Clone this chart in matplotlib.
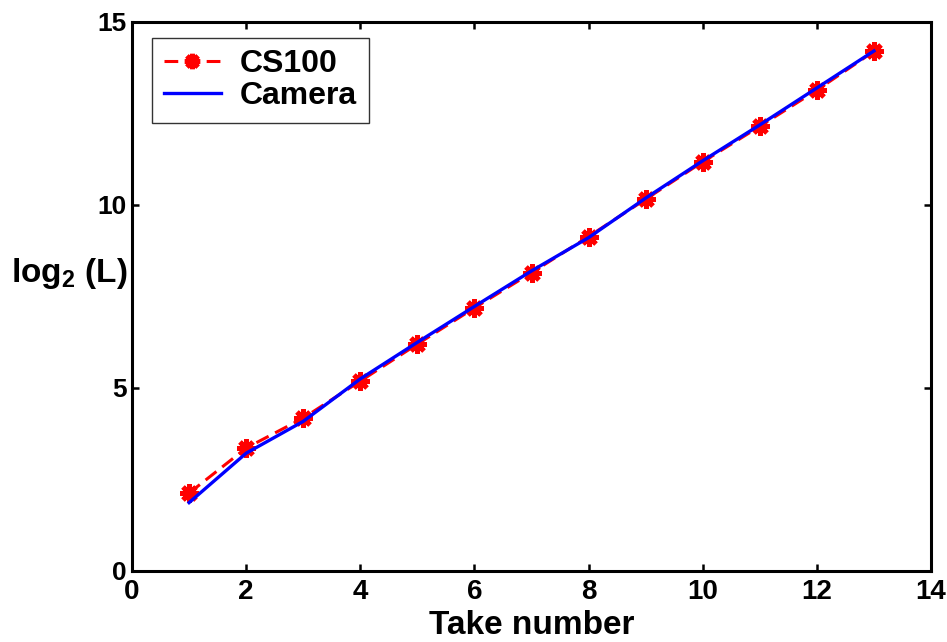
import matplotlib
matplotlib.use("Agg")
import matplotlib.pyplot as plt
from matplotlib import font_manager

take = [1, 2, 3, 4, 5, 6, 7, 8, 9, 10, 11, 12, 13]
cs100 = [2.12, 3.35, 4.17, 5.18, 6.19, 7.18, 8.14, 9.13, 10.15, 11.17, 12.14, 13.13, 14.19]
camera = [1.86, 3.21, 4.08, 5.24, 6.24, 7.22, 8.19, 9.1, 10.18, 11.2, 12.18, 13.19, 14.2]
xticks = [0, 2, 4, 6, 8, 10, 12, 14]
yticks = [0, 5, 10, 15]

names = {f.name for f in font_manager.fontManager.ttflist}
narrow = 'Liberation Sans Narrow' if 'Liberation Sans Narrow' in names else 'Liberation Sans'

plt.rcParams['font.family'] = ['Liberation Sans', 'DejaVu Sans']
plt.rcParams['font.weight'] = 'bold'
plt.rcParams['mathtext.fontset'] = 'custom'
plt.rcParams['mathtext.rm'] = 'Liberation Sans:bold'
plt.rcParams['mathtext.bf'] = 'Liberation Sans:bold'
plt.rcParams['mathtext.default'] = 'bf'

fig = plt.figure(figsize=(9.47, 6.42), dpi=100)
ax = fig.add_axes([132/947, 1-570.7/642, 799/947, 549/642])

ax.plot(take, cs100, color=(1, 0, 0), lw=2.2, ls='--', dashes=(4.5, 2.4),
        marker=(8, 2, 0), ms=13, mew=3.5, mec=(1, 0, 0), label='CS100')
ax.plot(take, camera, color=(0, 0, 1), lw=2.4, ls='-', label='Camera')

ax.set_xlim(0, 14)
ax.set_ylim(0, 15)
ax.set_xticks(xticks)
ax.set_yticks(yticks)
ax.set_xticklabels([str(v) for v in xticks], family=[narrow, 'Liberation Sans'],
                   fontsize=20, fontweight='bold')
ax.set_yticklabels([str(v) for v in yticks], fontsize=19, fontweight='bold')
ax.tick_params(direction='in', length=5, width=1.8, top=True, right=True)
ax.tick_params(axis='x', pad=6)
ax.tick_params(axis='y', pad=4)
for s in ax.spines.values():
    s.set_linewidth(2.2)

ax.set_xlabel('Take number', family=[narrow, 'Liberation Sans'], fontsize=24,
              fontweight='bold', va='baseline')
ax.xaxis.set_label_coords(0.5, (570.7-634)/549)
ax.set_ylabel(r'log$_2$ (L)', fontsize=24, fontweight='bold', rotation=0,
              ha='left', va='baseline')
ax.yaxis.set_label_coords((11-132)/799, (570.7-282)/549)

leg = ax.legend(loc='upper left', bbox_to_anchor=((152-132)/799, (570.7-38)/549),
                borderaxespad=0, fancybox=False, framealpha=1, edgecolor='#333333',
                prop={'family': 'Liberation Sans', 'weight': 'bold', 'size': 23},
                handlelength=1.8, handletextpad=0.6, borderpad=0.36,
                labelspacing=0.05, markerscale=0.85)
leg.get_frame().set_linewidth(1.0)

fig.savefig('out.png', dpi=100)
